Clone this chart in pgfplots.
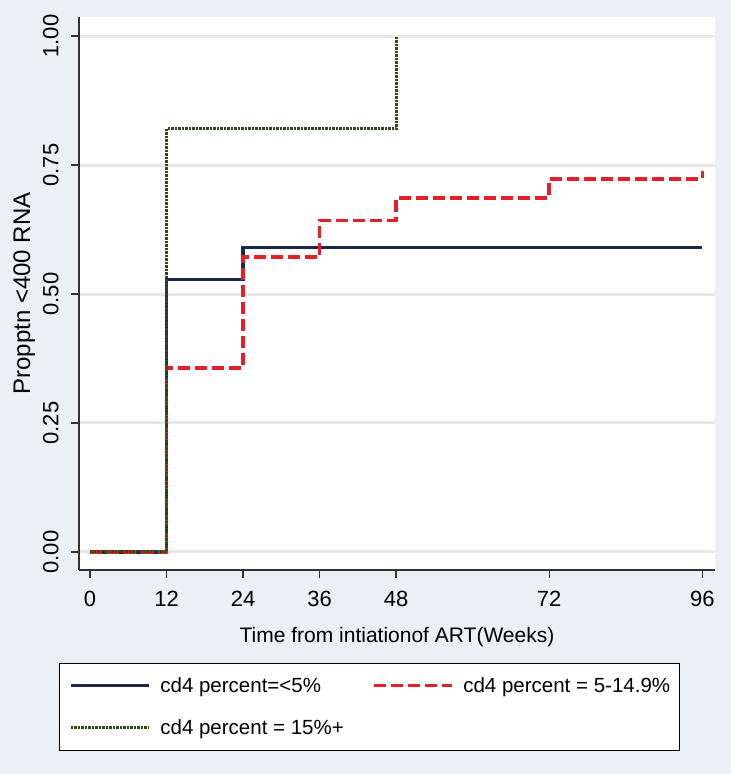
\documentclass[border=0pt]{standalone}
\usepackage{pgfplots}
\pgfplotsset{compat=1.18}
\usepackage{fontspec}
\setmainfont{Liberation Sans}
\definecolor{bgc}{RGB}{234,241,244}
\definecolor{navyc}{RGB}{26,40,80}
\definecolor{redc}{RGB}{230,30,40}
\definecolor{greenc}{RGB}{45,75,25}
\definecolor{gridc}{RGB}{232,232,232}
\definecolor{axc}{RGB}{50,50,50}
\begin{document}
\begin{tikzpicture}
\fill[bgc] (0pt,0pt) rectangle (731pt,-774pt);
\begin{axis}[
  at={(79pt,-570pt)}, anchor=south west,
  scale only axis, width=636pt, height=553pt,
  xmin=-1.73, xmax=98.0, ymin=-0.035, ymax=1.037,
  axis lines*=left,
  axis line style={axc, line width=1.5pt},
  axis background/.style={fill=white},
  /pgf/number format/assume math mode=true,
  xtick={0,12,24,36,48,72,96},
  ytick={0,0.25,0.5,0.75,1},
  yticklabels={0.00,0.25,0.50,0.75,1.00},
  tick align=outside,
  major tick length=8pt,
  tick style={axc, line width=1.3pt},
  ymajorgrids,
  grid style={gridc, line width=3pt},
  x tick label style={font=\fontsize{22pt}{26pt}\selectfont, yshift=-10pt},
  y tick label style={font=\fontsize{22pt}{26pt}\selectfont, rotate=90, anchor=south, yshift=9pt},
  xlabel={Time from intiationof ART(Weeks)},
  ylabel={Propptn <400 RNA},
  xlabel style={font=\fontsize{21pt}{25pt}\selectfont, yshift=-13pt},
  ylabel style={font=\fontsize{24pt}{28pt}\selectfont, yshift=1pt},
  legend columns=2,
  legend cell align=left,
  legend image code/.code={\draw[#1] (0pt,0pt) -- (78pt,0pt);},
  legend style={
    at={(rel axis cs:0.4568,-0.168)}, anchor=north,
    draw=black, line width=1pt, fill=white,
    inner xsep=9pt, inner ysep=14pt,
    font=\fontsize{20.5pt}{24pt}\selectfont,
    row sep=26pt,
    nodes={inner sep=0pt},
    /tikz/every odd column/.append style={column sep=10pt},
    /tikz/every even column/.append style={column sep=28pt},
  },
]
\addplot[const plot mark left, navyc, line width=3.5pt] coordinates {
  (0,0) (12,0.528) (24,0.590) (96,0.590)
};
\addlegendentry{cd4 percent=<5\%}
\addplot[const plot mark left, redc, line width=3.5pt, dash pattern=on 12pt off 5pt] coordinates {
  (0,0) (12,0.357) (24,0.572) (36,0.643) (48,0.686) (72,0.723) (96,0.738)
};
\addlegendentry{cd4 percent = 5-14.9\%}
\addplot[const plot mark left, greenc, line width=3pt, dash pattern=on 2.5pt off 1pt] coordinates {
  (0,0) (12,0.820) (48,1.0)
};
\addlegendentry{cd4 percent = 15\%+}
\end{axis}
\pgfresetboundingbox
\useasboundingbox (0pt,0pt) rectangle (731pt,-774pt);
\end{tikzpicture}
\end{document}
